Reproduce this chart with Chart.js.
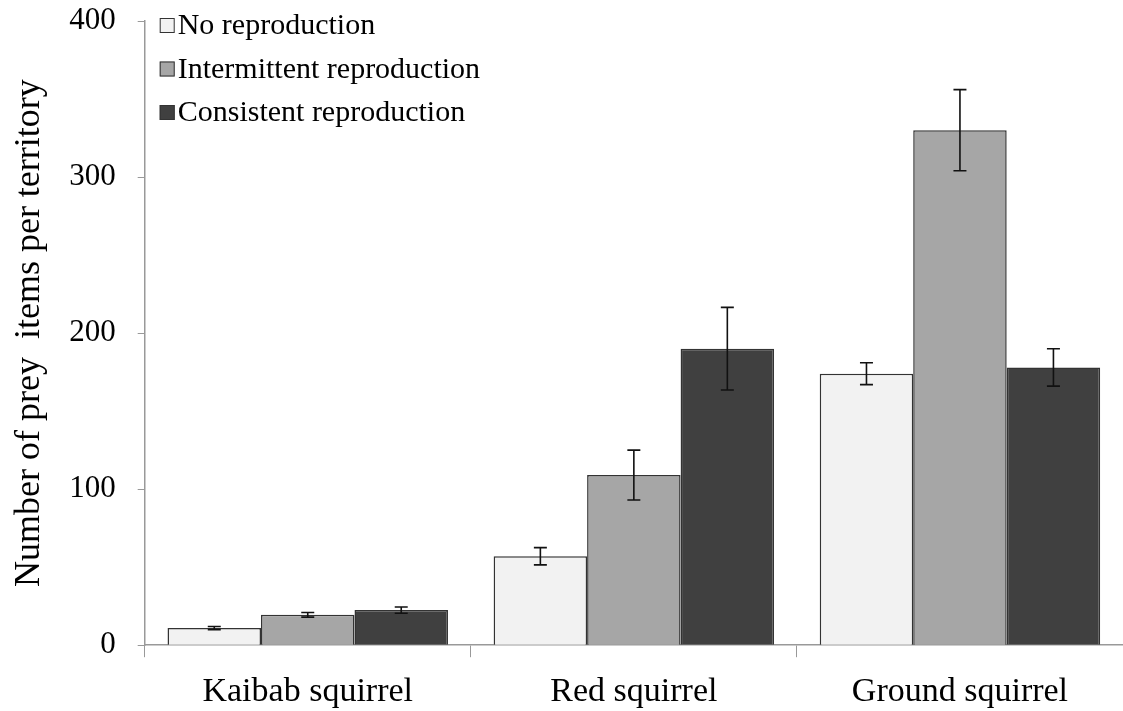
<!DOCTYPE html>
<html>
<head>
<meta charset="utf-8">
<script src="https://cdn.jsdelivr.net/npm/chart.js@4.4.1/dist/chart.umd.min.js"></script>
<style>
    html, body { margin: 0; padding: 0; background: #fff; }
    #wrap { width: 1123px; height: 711px; }
</style>
</head>
<body>
<div id="wrap"><canvas id="chart"></canvas></div>
<script>
// chart data
const categories = ['Kaibab squirrel', 'Red squirrel', 'Ground squirrel'];
const seriesNames = ['No reproduction', 'Intermittent reproduction', 'Consistent reproduction'];
const noRepro = [11, 57, 174];
const intermittentRepro = [19.5, 109, 330];
const consistentRepro = [22.5, 190, 178];
const noReproErr = [1, 5.5, 7];
const intermittentErr = [1.5, 16, 26];
const consistentErr = [2, 26.5, 12];
const yTicks = [0, 100, 200, 300, 400];

const fills = ['#f2f2f2', '#a6a6a6', '#404040'];
const FONT = '"Liberation Serif", "Times New Roman", serif';

// error bars, drawn from each bar's own position
const errorBars = {
    id: 'errorBars',
    afterDatasetsDraw(chart) {
        const ctx = chart.ctx;
        const y = chart.scales.y;
        ctx.save();
        ctx.strokeStyle = '#111';
        ctx.lineWidth = 1.6;
        chart.data.datasets.forEach((ds, i) => {
            chart.getDatasetMeta(i).data.forEach((bar, j) => {
                const v = ds.data[j];
                const e = ds.errors[j];
                const top = y.getPixelForValue(v + e);
                const bot = y.getPixelForValue(v - e);
                const cap = 6.5;
                ctx.beginPath();
                ctx.moveTo(bar.x, top); ctx.lineTo(bar.x, bot);
                ctx.moveTo(bar.x - cap, top); ctx.lineTo(bar.x + cap, top);
                ctx.moveTo(bar.x - cap, bot); ctx.lineTo(bar.x + cap, bot);
                ctx.stroke();
            });
        });
        ctx.restore();
    }
};

// legend inside the plot, top-left
const innerLegend = {
    id: 'innerLegend',
    afterDraw(chart) {
        const ctx = chart.ctx;
        const area = chart.chartArea;
        ctx.save();
        ctx.font = '30px ' + FONT;
        ctx.textBaseline = 'middle';
        chart.data.datasets.forEach((ds, i) => {
            const cy = area.top + 4.5 + i * 43.5;
            const x = area.left + 15;
            ctx.fillStyle = ds.backgroundColor;
            ctx.fillRect(x, cy - 7.5, 15, 15);
            ctx.strokeStyle = '#333';
            ctx.lineWidth = 1;
            ctx.strokeRect(x + 0.5, cy - 7, 14, 14);
            ctx.fillStyle = '#000';
            ctx.fillText(ds.label, x + 18, cy + 1);
        });
        ctx.restore();
    }
};

const makeSet = (i, data, errors) => ({
    label: seriesNames[i],
    data,
    errors,
    backgroundColor: fills[i],
    borderColor: '#333',
    borderWidth: 1.5,
    categoryPercentage: 0.86,
    barPercentage: 1.0
});

new Chart(document.getElementById('chart'), {
    type: 'bar',
    data: {
        labels: categories,
        datasets: [
            makeSet(0, noRepro, noReproErr),
            makeSet(1, intermittentRepro, intermittentErr),
            makeSet(2, consistentRepro, consistentErr)
        ]
    },
    options: {
        responsive: true,
        maintainAspectRatio: false,
        animation: false,
        layout: { padding: { top: 21, right: 0, left: 8, bottom: -15 } },
        plugins: {
            legend: { display: false },
            tooltip: { enabled: false }
        },
        scales: {
            x: {
                afterFit: s => { s.paddingLeft = 0; s.paddingRight = 0; },
                grid: { drawOnChartArea: false, color: '#999', tickLength: 12, offset: true },
                border: { color: '#999', width: 1.5 },
                ticks: { color: '#000', font: { family: FONT, size: 34 }, padding: 14 }
            },
            y: {
                min: 0,
                max: 400,
                afterBuildTicks: scale => { scale.ticks = yTicks.map(v => ({ value: v })); },
                afterFit: s => { s.paddingTop = 0; s.paddingBottom = 0; },
                grid: { drawOnChartArea: false, color: '#999', tickLength: 7 },
                border: { color: '#999', width: 1.5 },
                ticks: { color: '#000', font: { family: FONT, size: 31 }, padding: 22 },
                title: {
                    display: true,
                    text: 'Number of prey  items per territory',
                    color: '#000',
                    font: { family: FONT, size: 36 },
                    padding: { top: 0, bottom: -4 }
                }
            }
        }
    },
    plugins: [errorBars, innerLegend]
});
</script>
</body>
</html>
